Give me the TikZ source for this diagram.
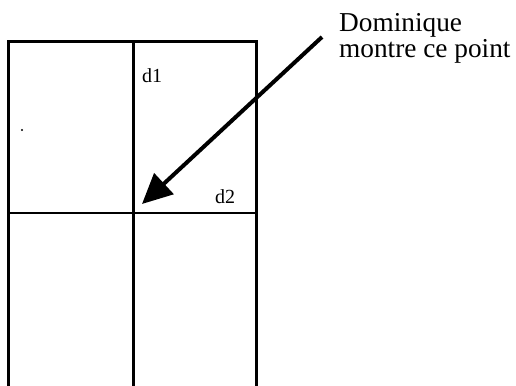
\documentclass[tikz,border=0pt]{standalone}
\usepackage{fontspec}
\setmainfont{Liberation Serif}
\usetikzlibrary{arrows.meta}
\begin{document}
\begin{tikzpicture}[x=1pt,y=-1pt,
  gridline/.style={line width=2.8pt, line cap=rect},
  pointer/.style={line width=4pt, -{Triangle[length=30pt,width=28pt]}},
  lbl/.style={inner sep=0pt, anchor=base west, font=\fontsize{27.3}{27}\selectfont},
  small/.style={inner sep=0pt, anchor=base west, font=\fontsize{20}{20}\selectfont}]
\useasboundingbox[fill=white] (0,0) rectangle (516,385);
% grid corners
\coordinate (tl) at (8.5,41.5);
\coordinate (tm) at (133.5,41.5);
\coordinate (tr) at (256.5,41.5);
\coordinate (ml) at (8.5,213);
\coordinate (mr) at (256.5,213);
\coordinate (bl) at (8.5,386);
\coordinate (bm) at (133.5,386);
\coordinate (br) at (256.5,386);
\draw[gridline] (bl) -- (tl) -- (tr) -- (br);
\draw[gridline] (tm) -- (bm);
\draw[gridline] (ml) -- (mr);
% stray dot
\fill (22,130) circle (1.1pt);
% labels
\node[small] (d1) at (142,83) {d1};
\node[small] (d2) at (215,203) {d2};
\node[lbl] (t1) at (339,32) {Dominique};
\node[lbl] (t2) at (339,58) {montre ce point};
% arrow
\coordinate (tail) at (322,37);
\coordinate (tip) at (142,204);
\draw[pointer] (tail) -- (tip);
\end{tikzpicture}
\end{document}
